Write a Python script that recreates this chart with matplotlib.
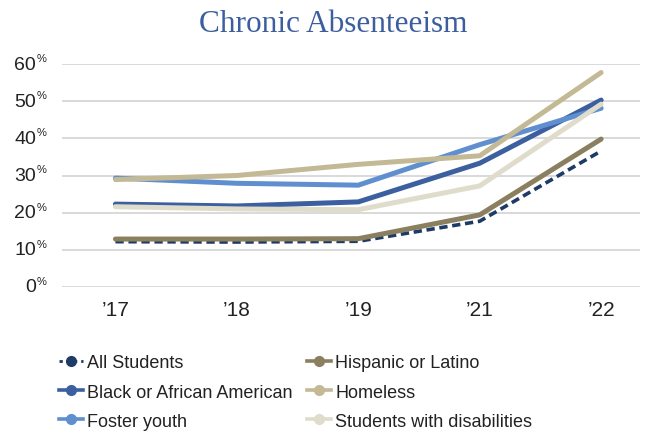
import matplotlib
matplotlib.use("Agg")
import matplotlib.pyplot as plt
from matplotlib.lines import Line2D
from matplotlib.transforms import blended_transform_factory, offset_copy

years = ["\u201917", "\u201918", "\u201919", "\u201921", "\u201922"]

all_students = [12.2, 12.1, 12.3, 17.7, 36.6]
hispanic = [12.9, 12.9, 13.0, 19.4, 39.8]
black = [22.3, 21.8, 22.9, 33.3, 50.3]
foster = [29.3, 27.9, 27.4, 38.3, 48.1]
homeless = [28.9, 30.0, 33.0, 35.3, 57.7]
disabilities = [21.6, 21.0, 20.8, 27.2, 49.2]

y_ticks = [0, 10, 20, 30, 40, 50, 60]

series = [
    ("All Students", all_students, "#1e3a66", "--"),
    ("Black or African American", black, "#3c5fa0", "-"),
    ("Foster youth", foster, "#5f8fcf", "-"),
    ("Hispanic or Latino", hispanic, "#8a7f5f", "-"),
    ("Homeless", homeless, "#c3b995", "-"),
    ("Students with disabilities", disabilities, "#e0dccb", "-"),
]

plt.rcParams["font.family"] = ["Liberation Sans", "DejaVu Sans"]

fig = plt.figure(figsize=(6.53, 4.35), dpi=100)
ax = fig.add_axes([62 / 653, 1 - 288 / 435, 578 / 653, 223 / 435])

x = list(range(len(years)))
# draw back-to-front so the navy dashed line sits on top
order = [5, 4, 3, 2, 1, 0]
for i in order:
    name, vals, color, ls = series[i]
    if ls == "--":
        ax.plot(x, vals, color=color, lw=2.6, ls=(0, (2.3, 1.3)), zorder=3 + i,
                dash_capstyle="butt")
    else:
        ax.plot(x, vals, color=color, lw=3.6, zorder=3 + i, solid_capstyle="round")

ax.set_xlim(-0.44, 4.32)
ax.set_ylim(0, 60)
ax.set_yticks(y_ticks)
ax.yaxis.grid(True, color="#d9d9d9", lw=1.4)
ax.set_axisbelow(True)
for s in ax.spines.values():
    s.set_visible(False)
ax.tick_params(axis="both", length=0)
ax.set_xticks(x)
ax.set_xticklabels(years, fontsize=15, color="#222222")
ax.tick_params(axis="x", pad=9)
ax.set_yticklabels([])

# y labels: number with a small raised percent sign
trans = blended_transform_factory(ax.transAxes, ax.transData)
for v in y_ticks:
    t_num = offset_copy(trans, fig=fig, x=-18.7, y=0, units="points")
    ax.text(0, v, str(v), transform=t_num, ha="right", va="center",
            fontsize=14, color="#222222", clip_on=False)
    t_pct = offset_copy(trans, fig=fig, x=-18.2, y=4.4, units="points")
    ax.text(0, v, "%", transform=t_pct, ha="left", va="center",
            fontsize=8, color="#222222", clip_on=False)

fig.text(333 / 653, 1 - 25 / 435, "Chronic Absenteeism", ha="center", va="center",
         fontsize=22.5, color="#3d5e9e", family=["Liberation Serif", "DejaVu Serif"])

handles = []
for name, vals, color, ls in series:
    if ls == "--":
        h = Line2D([], [], color=color, lw=2.0, ls=(0, (1.2, 1.4)), marker="o",
                   markersize=7, markerfacecolor=color, markeredgecolor=color)
    else:
        h = Line2D([], [], color=color, lw=2.6, marker="o", markersize=7,
                   markerfacecolor=color, markeredgecolor=color)
    handles.append(h)

fig.legend(handles, [s[0] for s in series], ncol=2, loc="upper left",
           bbox_to_anchor=(43 / 653, 1 - 339 / 435), frameon=False,
           fontsize=13, handlelength=1.3, handletextpad=0.25,
           columnspacing=0.8, labelspacing=0.68, labelcolor="#222222")

fig.savefig("out.png", dpi=100)
